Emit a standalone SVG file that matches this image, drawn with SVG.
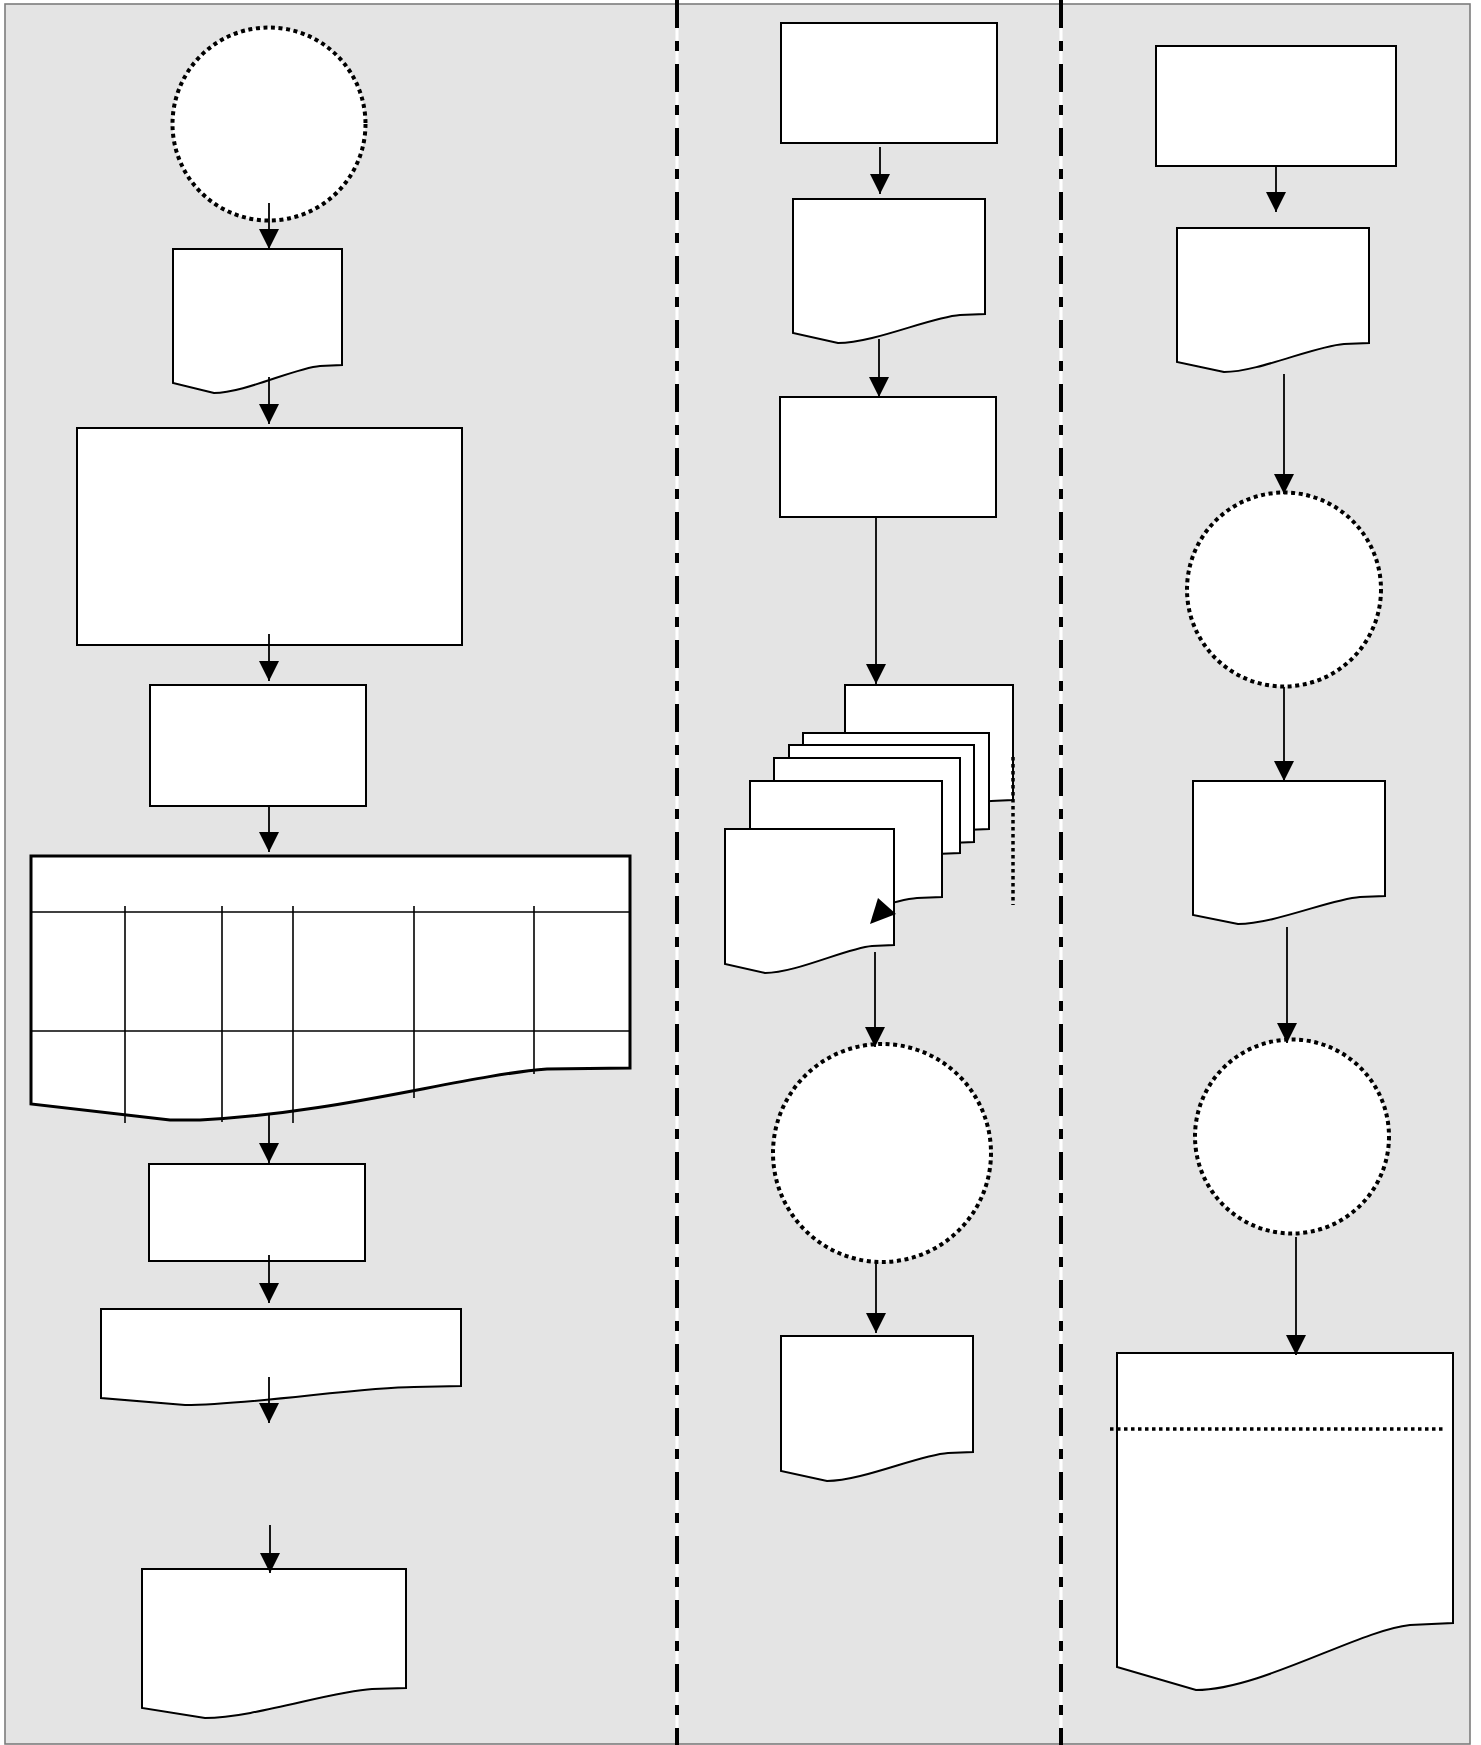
<svg xmlns="http://www.w3.org/2000/svg" width="1481" height="1745" viewBox="0 0 1481 1745">
  <defs>
    <marker id="arrow" markerUnits="userSpaceOnUse" markerWidth="20" markerHeight="20" refX="20" refY="10" orient="auto">
      <path d="M0,0 L20,10 L0,20 Z" fill="#000"/>
    </marker>
    <style>
      .box { fill: #fff; stroke: #000; stroke-width: 2; }
      .table { fill: #fff; stroke: #000; stroke-width: 3; }
      .grid { fill: none; stroke: #000; stroke-width: 1.6; }
      .dotted { fill: #fff; stroke: #000; stroke-width: 4; stroke-dasharray: 4 3.6; }
      .dotline { fill: none; stroke: #000; stroke-width: 3.5; stroke-dasharray: 3.5 3.5; }
      .conn { fill: none; stroke: #000; stroke-width: 1.8; marker-end: url(#arrow); }
      .lane-bg { stroke: #fff; stroke-width: 3; }
      .lane { stroke: #000; stroke-width: 4; stroke-dasharray: 28 13 10 13; }
    </style>
  </defs>

  <!-- page -->
  <rect x="5" y="4" width="1465" height="1740" fill="#e4e4e4" stroke="#7c7c7c" stroke-width="1.6"/>

  <!-- lane separators -->
  <g id="lanes">
    <line class="lane-bg" x1="677" y1="0" x2="677" y2="1745"/>
    <line class="lane" x1="677" y1="0" x2="677" y2="1745"/>
    <line class="lane-bg" x1="1061" y1="0" x2="1061" y2="1745"/>
    <line class="lane" x1="1061" y1="0" x2="1061" y2="1745"/>
  </g>

  <!-- left column -->
  <g id="l-start"><circle class="dotted" cx="269" cy="124" r="96.5"/></g>
  <g id="l-doc1"><path class="box" d="M173,249 H342 V365 L320,366 C295,368 244,393 214,393 L173,383 Z"/></g>
  <g id="l-rect1"><rect class="box" x="77" y="428" width="385" height="217"/></g>
  <g id="l-rect2"><rect class="box" x="150" y="685" width="216" height="121"/></g>
  <g id="l-table">
    <path class="table" d="M31,856 H630 V1068 L547,1069 C460,1076 340,1113 200,1120 L170,1120 L31,1104 Z"/>
    <line class="grid" x1="31" y1="912" x2="630" y2="912"/>
    <line class="grid" x1="31" y1="1031" x2="630" y2="1031"/>
    <line class="grid" x1="125" y1="906" x2="125" y2="1123"/>
    <line class="grid" x1="222" y1="906" x2="222" y2="1122"/>
    <line class="grid" x1="293" y1="906" x2="293" y2="1123"/>
    <line class="grid" x1="414" y1="906" x2="414" y2="1098"/>
    <line class="grid" x1="534" y1="906" x2="534" y2="1074"/>
  </g>
  <g id="l-rect3"><rect class="box" x="149" y="1164" width="216" height="97"/></g>
  <g id="l-doc2"><path class="box" d="M101,1309 H461 V1386 L414,1387 C360,1387 252,1405 185,1405 L101,1398 Z"/></g>
  <g id="l-doc3"><path class="box" d="M142,1569 H406 V1688 L372,1689 C332,1691 253,1718 205,1718 L142,1708 Z"/></g>

  <!-- middle column -->
  <g id="m-rect1"><rect class="box" x="781" y="23" width="216" height="120"/></g>
  <g id="m-doc1"><path class="box" d="M793,199 H985 V314 L960,315 C931,317 874,343 838,343 L793,333 Z"/></g>
  <g id="m-rect2"><rect class="box" x="780" y="397" width="216" height="120"/></g>
  <g id="m-stack">
    <path class="box" d="M845,685 H1013 V800 L991,801 C966,803 916,828 885,828 L845,818 Z"/>
    <path class="box" d="M803,733 H989 V829 L965,830 C937,832 881,856 848,856 L803,847 Z"/>
    <path class="box" d="M789,745 H974 V842 L950,843 C922,845 867,869 833,869 L789,860 Z"/>
    <path class="box" d="M774,758 H960 V853 L936,854 C908,856 852,880 819,880 L774,871 Z"/>
    <path class="box" d="M750,781 H942 V897 L917,898 C888,900 831,925 796,925 L750,915 Z"/>
    <path class="box" d="M725,829 H894 V945 L872,946 C847,948 796,973 765,973 L725,964 Z"/>
    <polygon points="878,898 896,914 870,924" fill="#000"/>
    <line class="dotline" x1="1013" y1="757" x2="1013" y2="905"/>
  </g>
  <g id="m-circle"><circle class="dotted" cx="882" cy="1153" r="109"/></g>
  <g id="m-doc2"><path class="box" d="M781,1336 H973 V1452 L948,1453 C919,1455 862,1481 827,1481 L781,1471 Z"/></g>

  <!-- right column -->
  <g id="r-rect1"><rect class="box" x="1156" y="46" width="240" height="120"/></g>
  <g id="r-doc1"><path class="box" d="M1177,228 H1369 V343 L1344,344 C1315,346 1258,372 1224,372 L1177,362 Z"/></g>
  <g id="r-circle1"><circle class="dotted" cx="1284" cy="589.5" r="97"/></g>
  <g id="r-doc2"><path class="box" d="M1193,781 H1385 V896 L1360,897 C1331,899 1274,924 1238,924 L1193,915 Z"/></g>
  <g id="r-circle2"><circle class="dotted" cx="1292" cy="1136.5" r="97"/></g>
  <g id="r-doc3">
    <path class="box" d="M1117,1353 H1453 V1623 L1410,1625 C1360,1630 1260,1690 1196,1690 L1117,1667 Z"/>
    <line class="dotline" x1="1110" y1="1429" x2="1443" y2="1429"/>
  </g>

  <!-- connectors -->
  <g id="connectors">
    <line class="conn" x1="269" y1="203" x2="269" y2="249"/>
    <line class="conn" x1="269" y1="377" x2="269" y2="424"/>
    <line class="conn" x1="269" y1="634" x2="269" y2="681"/>
    <line class="conn" x1="269" y1="806" x2="269" y2="852"/>
    <line class="conn" x1="269" y1="1113" x2="269" y2="1163"/>
    <line class="conn" x1="269" y1="1255" x2="269" y2="1303"/>
    <line class="conn" x1="269" y1="1377" x2="269" y2="1423"/>
    <line class="conn" x1="270" y1="1525" x2="270" y2="1573"/>

    <line class="conn" x1="880" y1="147" x2="880" y2="194"/>
    <line class="conn" x1="879" y1="339" x2="879" y2="397"/>
    <line class="conn" x1="876" y1="517" x2="876" y2="684"/>
    <line class="conn" x1="875" y1="952" x2="875" y2="1047"/>
    <line class="conn" x1="876" y1="1262" x2="876" y2="1333"/>

    <line class="conn" x1="1276" y1="166" x2="1276" y2="212"/>
    <line class="conn" x1="1284" y1="374" x2="1284" y2="494"/>
    <line class="conn" x1="1284" y1="687" x2="1284" y2="781"/>
    <line class="conn" x1="1287" y1="927" x2="1287" y2="1043"/>
    <line class="conn" x1="1296" y1="1237" x2="1296" y2="1355"/>
  </g>
</svg>
